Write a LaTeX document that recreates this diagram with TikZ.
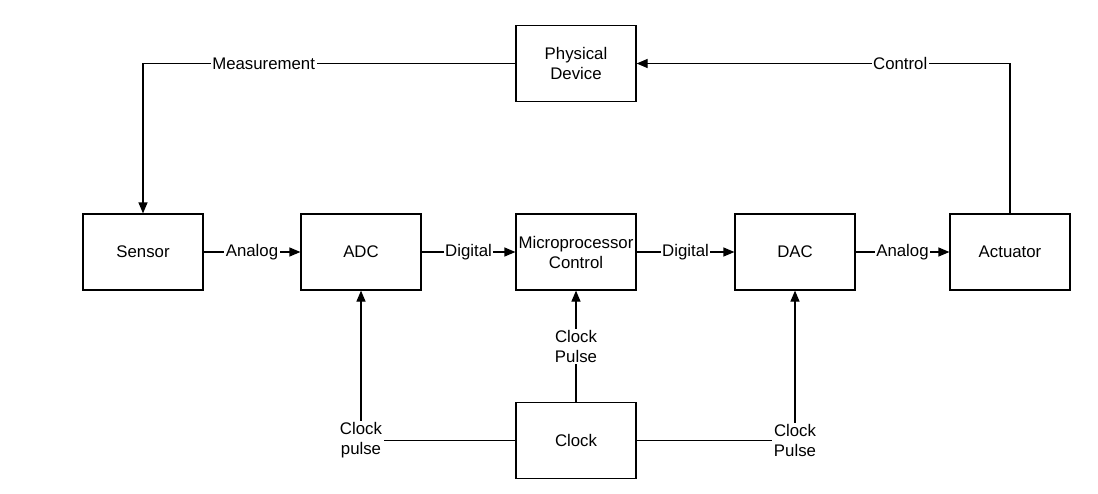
\documentclass[tikz,border=0pt]{standalone}
\usepackage{fontspec}
\setmainfont{Liberation Sans}
\usetikzlibrary{arrows.meta}
\begin{document}
\begin{tikzpicture}[x=1pt,y=-1pt,
  blk/.style={draw,line width=1.2pt,minimum width=120pt,minimum height=76pt,inner sep=0pt,align=center,font=\fontsize{16.8}{20}\selectfont},
  lbl/.style={fill=white,inner sep=1.5pt,align=center,font=\fontsize{16.8}{20}\selectfont},
  conn/.style={line width=1.2pt},
  arr/.style={conn,-{Triangle[length=11pt,width=9pt]}}]
\useasboundingbox (0,0) rectangle (1098,493);
\node[blk] (pd) at (576,63.5) {Physical\\Device};
\node[blk] (sen) at (143,252) {Sensor};
\node[blk] (adc) at (361,252) {ADC};
\node[blk] (mic) at (576,252) {Microprocessor\\Control};
\node[blk] (dac) at (795,252) {DAC};
\node[blk] (act) at (1010,252) {Actuator};
\node[blk] (clk) at (576,440.5) {Clock};
\draw[arr] (pd.west) -| node[lbl,pos=0.338] {Measurement} (sen.north);
\draw[arr] (act.north) |- node[lbl,pos=0.647] {Control} (pd.east);
\draw[arr] (sen) -- node[lbl] {Analog} (adc);
\draw[arr] (adc) -- node[lbl] {Digital} (mic);
\draw[arr] (mic) -- node[lbl] {Digital} (dac);
\draw[arr] (dac) -- node[lbl] {Analog} (act);
\draw[arr] (clk) -- node[lbl] {Clock\\Pulse} (mic);
\draw[arr] (clk.west) -| node[lbl,pos=0.5] {Clock\\pulse} (adc.south);
\draw[arr] (clk.east) -| node[lbl,pos=0.5] {Clock\\Pulse} (dac.south);
\end{tikzpicture}
\end{document}
